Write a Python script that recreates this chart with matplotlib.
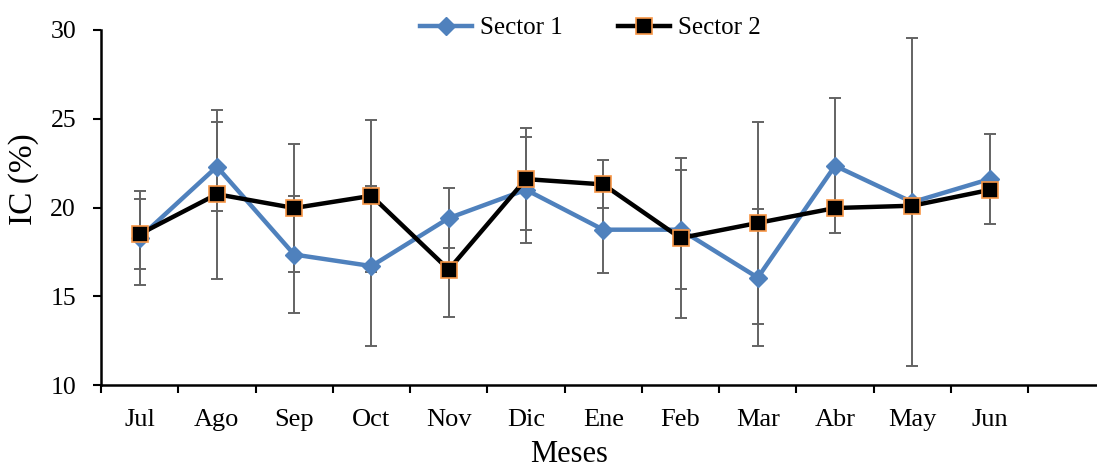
import matplotlib
matplotlib.use("Agg")
import matplotlib.pyplot as plt
import numpy as np

months = ["Jul", "Ago", "Sep", "Oct", "Nov", "Dic", "Ene", "Feb", "Mar", "Abr", "May", "Jun"]
sector1 = [18.3, 22.3, 17.35, 16.7, 19.4, 21.0, 18.75, 18.75, 16.05, 22.35, 20.3, 21.6]
sector1_err = [2.65, 2.5, 3.3, 4.5, 1.7, 3.0, 2.45, 3.35, 3.85, 3.8, 9.25, 2.55]
sector2 = [18.5, 20.75, 19.97, 20.66, 16.5, 21.6, 21.3, 18.28, 19.13, 19.97, 20.1, 20.99]
sector2_err = [1.97, 4.77, 3.63, 4.29, 2.67, 2.89, 1.35, 4.49, 5.7, 0.2, 0.2, 0.2]

plt.rcParams['font.family'] = ['Liberation Serif', 'DejaVu Serif']

W, H = 1097, 468
fig = plt.figure(figsize=(W / 100, H / 100), dpi=100)
ax = fig.add_axes([101 / W, (H - 385) / H, (W - 101) / W, (385 - 30) / H])

x = np.arange(len(months))
err_color = '#636363'
ax.errorbar(x, sector1, yerr=sector1_err, fmt='none', ecolor=err_color,
            elinewidth=1.4, capsize=4.5, capthick=1.4, zorder=1)
ax.errorbar(x, sector2, yerr=sector2_err, fmt='none', ecolor=err_color,
            elinewidth=1.4, capsize=4.5, capthick=1.4, zorder=1)
ax.plot(x, sector1, color='#4f81bd', lw=3.2, marker='D', markersize=9.5,
        markerfacecolor='#4f81bd', markeredgecolor='#4f81bd', label='Sector 1', zorder=2)
ax.plot(x, sector2, color='black', lw=3.2, marker='s', markersize=11.5,
        markerfacecolor='black', markeredgecolor='#f79646', markeredgewidth=1.2,
        label='Sector 2', zorder=3)

ax.set_ylim(10, 30)
ax.set_yticks([10, 15, 20, 25, 30])
ax.set_xlim(-0.5, 12.39)
ax.set_xticks(np.arange(-0.5, 12.0, 1.0))
ax.set_xticklabels([])
ax.set_xticks(x, minor=True)
ax.set_xticklabels(months, minor=True, fontsize=19)
ax.tick_params(axis='x', which='major', direction='out', length=6, width=1.5)
ax.tick_params(axis='x', which='minor', length=0, pad=17)
ax.tick_params(axis='y', direction='out', length=6, width=1.5, labelsize=18.5, pad=12)

for s in ['top', 'right']:
    ax.spines[s].set_visible(False)
for s in ['left', 'bottom']:
    ax.spines[s].set_linewidth(1.8)

ax.set_ylabel('IC (%)', fontsize=24)
ax.yaxis.set_label_coords(-0.062, 0.58)
ax.set_xlabel('Meses', fontsize=22)
ax.xaxis.set_label_coords(0.47, -0.155)

fig.legend(loc='center', bbox_to_anchor=(590 / W, 1 - 28 / H), ncol=2, frameon=False,
           fontsize=18, handlelength=2.1, handletextpad=0.3, columnspacing=2.2,
           borderpad=0, borderaxespad=0)

fig.savefig('out.png', dpi=100)
